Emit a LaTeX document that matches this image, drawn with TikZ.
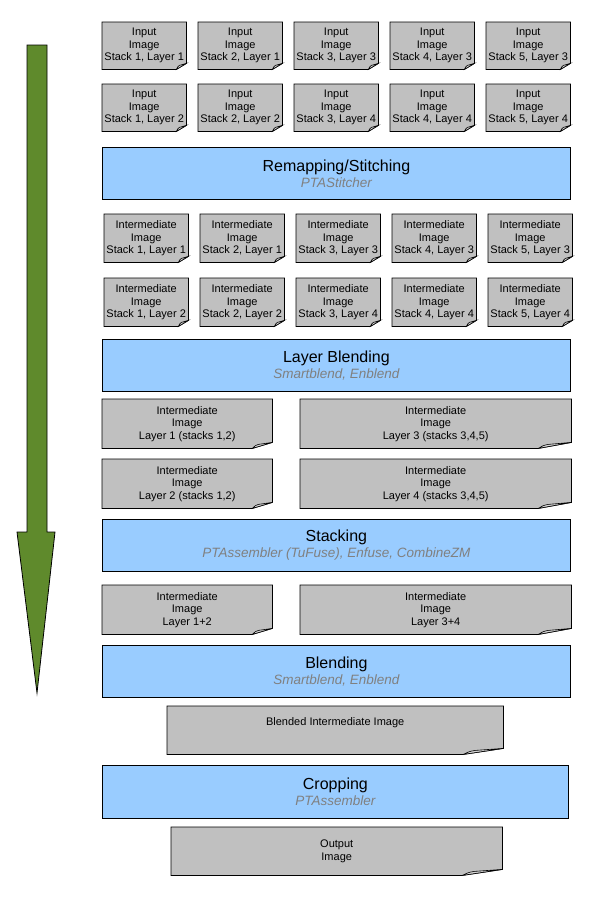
\documentclass[tikz,border=0pt]{standalone}
\usepackage{fontspec}
\setmainfont{Liberation Sans}
\usetikzlibrary{backgrounds}

\definecolor{docgray}{HTML}{C0C0C0}
\definecolor{foldgray}{HTML}{D6D6D6}
\definecolor{stepblue}{HTML}{99CCFF}
\definecolor{flowgreen}{HTML}{5F8A2C}
\definecolor{tooltext}{HTML}{808080}
\newcommand{\docfont}{\fontsize{11}{12.5}\selectfont}
\newcommand{\stepfont}{\fontsize{16}{16}\selectfont}
\newcommand{\toolfont}{\fontsize{13.5}{15}\selectfont\itshape\color{tooltext}}

\tikzset{
  imgdoc/.style={inner sep=0pt, align=center, font=\docfont, anchor=north west,
    minimum width=84pt, minimum height=47pt},
  stepbox/.style={draw, line width=0.8pt, fill=stepblue, inner sep=0pt, align=center,
    font=\stepfont, anchor=north west, minimum width=468pt, minimum height=52pt},
}

\begin{document}
\begin{tikzpicture}[x=1pt,y=-1pt]
        \useasboundingbox (0,0) rectangle (599,900);
        % direction of the workflow
        \draw[line width=0.8pt, fill=flowgreen] (27,45) -- (47,45) -- (47,532) -- (55,532)
          -- (37,693) -- (17,532) -- (27,532) -- cycle;
        % input images
        \node[imgdoc] (in11) at (102,22) {Input\\Image\\Stack 1, Layer 1};
        \node[imgdoc] (in21) at (198,22) {Input\\Image\\Stack 2, Layer 1};
        \node[imgdoc] (in33) at (294,22) {Input\\Image\\Stack 3, Layer 3};
        \node[imgdoc] (in43) at (390,22) {Input\\Image\\Stack 4, Layer 3};
        \node[imgdoc] (in53) at (486,22) {Input\\Image\\Stack 5, Layer 3};
        \node[imgdoc] (in12) at (102,84) {Input\\Image\\Stack 1, Layer 2};
        \node[imgdoc] (in22) at (198,84) {Input\\Image\\Stack 2, Layer 2};
        \node[imgdoc] (in34) at (294,84) {Input\\Image\\Stack 3, Layer 4};
        \node[imgdoc] (in44) at (390,84) {Input\\Image\\Stack 4, Layer 4};
        \node[imgdoc] (in54) at (486,84) {Input\\Image\\Stack 5, Layer 4};
        \node[stepbox] (remap) at (102,147) {Remapping/Stitching\\{\toolfont PTAStitcher}};
        % remapped images
        \node[imgdoc,minimum height=48pt] (mid11) at (104,214) {Intermediate\\Image\\Stack 1, Layer 1};
        \node[imgdoc,minimum height=48pt] (mid21) at (200,214) {Intermediate\\Image\\Stack 2, Layer 1};
        \node[imgdoc,minimum height=48pt] (mid33) at (296,214) {Intermediate\\Image\\Stack 3, Layer 3};
        \node[imgdoc,minimum height=48pt] (mid43) at (392,214) {Intermediate\\Image\\Stack 4, Layer 3};
        \node[imgdoc,minimum height=48pt] (mid53) at (488,214) {Intermediate\\Image\\Stack 5, Layer 3};
        \node[imgdoc,minimum height=48pt] (mid12) at (104,278) {Intermediate\\Image\\Stack 1, Layer 2};
        \node[imgdoc,minimum height=48pt] (mid22) at (200,278) {Intermediate\\Image\\Stack 2, Layer 2};
        \node[imgdoc,minimum height=48pt] (mid34) at (296,278) {Intermediate\\Image\\Stack 3, Layer 4};
        \node[imgdoc,minimum height=48pt] (mid44) at (392,278) {Intermediate\\Image\\Stack 4, Layer 4};
        \node[imgdoc,minimum height=48pt] (mid54) at (488,278) {Intermediate\\Image\\Stack 5, Layer 4};
        \node[stepbox] (layblend) at (102,339) {Layer Blending\\{\toolfont Smartblend, Enblend}};
        % blended layers
        \node[imgdoc,minimum width=170pt,minimum height=49pt] (lay1) at (102,399) {Intermediate\\Image\\Layer 1 (stacks 1,2)};
        \node[imgdoc,minimum width=271pt,minimum height=49pt] (lay3) at (300,399) {Intermediate\\Image\\Layer 3 (stacks 3,4,5)};
        \node[imgdoc,minimum width=170pt,minimum height=49pt] (lay2) at (102,459) {Intermediate\\Image\\Layer 2 (stacks 1,2)};
        \node[imgdoc,minimum width=271pt,minimum height=49pt] (lay4) at (300,459) {Intermediate\\Image\\Layer 4 (stacks 3,4,5)};
        \node[stepbox] (stacking) at (102,519) {Stacking\\{\toolfont PTAssembler (TuFuse), Enfuse, CombineZM}};
        % stacked layers
        \node[imgdoc,minimum width=170pt,minimum height=49pt] (lay12) at (102,585) {Intermediate\\Image\\Layer 1+2};
        \node[imgdoc,minimum width=271pt,minimum height=49pt] (lay34) at (300,585) {Intermediate\\Image\\Layer 3+4};
        \node[stepbox] (blending) at (102,645) {Blending\\{\toolfont Smartblend, Enblend}};
        \node[imgdoc,minimum width=336pt,minimum height=48pt,text depth=18pt] (blend) at (167,706) {Blended Intermediate Image};
        \node[stepbox,minimum width=466pt,minimum height=53pt] (cropping) at (102,765) {Cropping\\{\toolfont PTAssembler}};
        \node[imgdoc,minimum width=331pt,minimum height=48pt] (out) at (171,827) {Output\\Image};
        % image sheets with curled corner
        \begin{scope}[on background layer]
          \foreach \n/\f in {in11/10pt,in21/10pt,in33/10pt,in43/10pt,in53/10pt,
                             in12/10pt,in22/10pt,in34/10pt,in44/10pt,in54/10pt,
                             mid11/10pt,mid21/10pt,mid33/10pt,mid43/10pt,mid53/10pt,
                             mid12/10pt,mid22/10pt,mid34/10pt,mid44/10pt,mid54/10pt,
                             lay1/20pt,lay2/20pt,lay12/20pt,lay3/33pt,lay4/33pt,lay34/33pt,
                             blend/40pt,out/40pt} {
            \draw[line width=0.8pt, fill=docgray] (\n.north west) -- (\n.north east)
              -- ([yshift=6pt]\n.south east) -- ([xshift=-\f]\n.south east)
              -- (\n.south west) -- cycle;
            \draw[line width=0.6pt, fill=foldgray] ([yshift=6pt]\n.south east)
              -- ([xshift=-0.7*\f,yshift=4pt]\n.south east)
              .. controls ([xshift=-0.85*\f,yshift=3pt]\n.south east) .. ([xshift=-\f]\n.south east)
              -- cycle;
          }
        \end{scope}
      \end{tikzpicture}
\end{document}
